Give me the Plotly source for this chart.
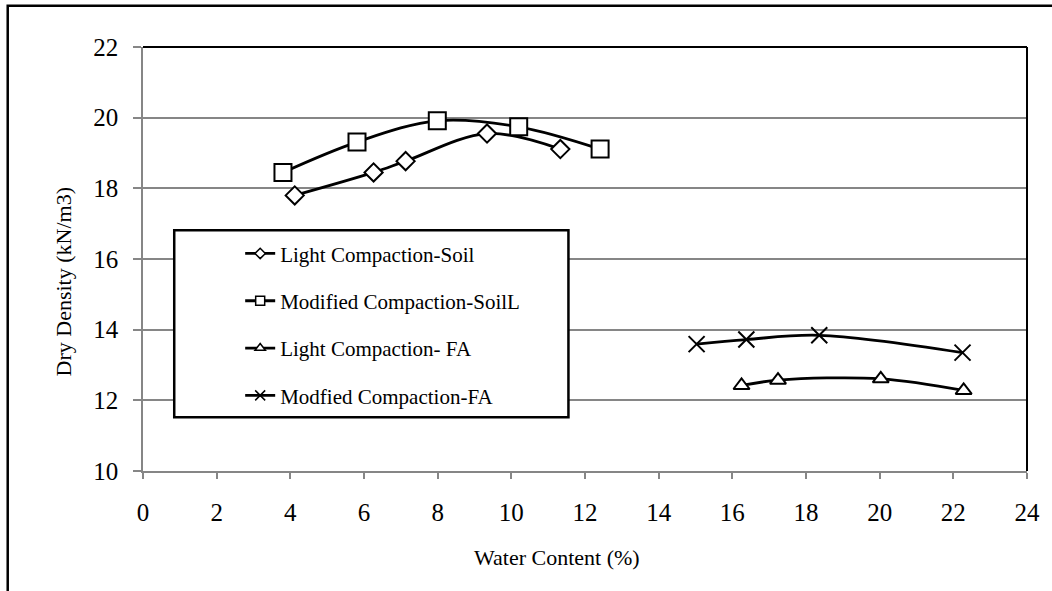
import plotly.graph_objects as go

# Data
light_soil_w = [4.12, 6.26, 7.13, 9.34, 11.33]
light_soil_d = [17.80, 18.45, 18.77, 19.55, 19.11]

mod_soil_w = [3.80, 5.81, 7.99, 10.20, 12.41]
mod_soil_d = [18.45, 19.31, 19.91, 19.74, 19.11]

light_fa_w = [16.25, 17.24, 20.03, 22.28]
light_fa_d = [12.42, 12.57, 12.61, 12.28]

mod_fa_w = [15.03, 16.38, 18.36, 22.25]
mod_fa_d = [13.59, 13.72, 13.84, 13.35]

series_names = ["Light Compaction-Soil", "Modified Compaction-SoilL",
                "Light Compaction- FA", "Modfied Compaction-FA"]
x_ticks = list(range(0, 25, 2))
y_ticks = list(range(10, 23, 2))

FONT = "Liberation Serif, Times New Roman, serif"
GRAY = "#868686"

W, H = 1052, 591
# plot area in pixels of the reference
L, R, T, B = 143.3, 1032.0, 46.7, 470.7


def px_x(p):
    return (p - L) / (R - L)


def px_y(p):
    return (B - p) / (B - T)


fig = go.Figure()

specs = [
    (light_soil_w, light_soil_d, "diamond", 14, 8),
    (mod_soil_w, mod_soil_d, "square", 17, 9),
    (light_fa_w, light_fa_d, "triangle-up", 14, 9),
    (mod_fa_w, mod_fa_d, "x-thin-open", 16, 10),
]
for i, (xs, ys, sym, sz, lsz) in enumerate(specs):
    col = "black" if sym == "x-thin-open" else "white"
    fig.add_trace(go.Scatter(
        x=xs, y=ys, name=series_names[i], legendgroup=f"g{i}", showlegend=False,
        mode="lines+markers",
        line=dict(color="black", width=2.8, shape="spline", smoothing=1.0),
        marker=dict(symbol=sym, size=sz, color=col,
                    line=dict(color="black", width=2)),
    ))
    # legend entry with smaller marker, as in the reference
    fig.add_trace(go.Scatter(
        x=[None], y=[None], name=series_names[i], legendgroup=f"g{i}",
        mode="lines+markers",
        line=dict(color="black", width=2.8),
        marker=dict(symbol=sym, size=lsz, color=col,
                    line=dict(color="black", width=1.5)),
    ))

fig.update_layout(
    width=W, height=H,
    margin=dict(l=L, r=W - R, t=T, b=H - B, pad=0),
    paper_bgcolor="white", plot_bgcolor="white",
    font=dict(family=FONT, size=22, color="black"),
    showlegend=True,
    legend=dict(
        x=px_x(241), y=px_y(233), xanchor="left", yanchor="top",
        bgcolor="rgba(0,0,0,0)", borderwidth=0,
        font=dict(family=FONT, size=21, color="black"),
        tracegroupgap=17,
    ),
    xaxis=dict(
        range=[0, 24], tickvals=x_ticks, ticktext=[str(v) for v in x_ticks],
        showgrid=False, zeroline=False,
        showline=True, linecolor=GRAY, linewidth=1.5,
        ticks="outside", ticklen=6, tickcolor=GRAY, tickwidth=1.5,
        ticklabelstandoff=12,
        tickfont=dict(family=FONT, size=25, color="black"),
    ),
    yaxis=dict(
        range=[10, 22], tickvals=y_ticks, ticktext=[str(v) for v in y_ticks],
        showgrid=True, gridcolor=GRAY, gridwidth=1.5, zeroline=False,
        showline=True, linecolor=GRAY, linewidth=1.5,
        ticks="outside", ticklen=8, tickcolor=GRAY, tickwidth=1.5,
        ticklabelstandoff=10,
        tickfont=dict(family=FONT, size=25, color="black"),
    ),
)

shapes = [
    # outer chart border (cropped at right and bottom)
    dict(type="rect", xref="paper", yref="paper",
         x0=px_x(7.3), x1=px_x(1100), y0=px_y(700), y1=px_y(5.5),
         line=dict(color="black", width=2.5), fillcolor="rgba(0,0,0,0)", layer="above"),
    # plot area top and right borders
    dict(type="line", xref="paper", yref="paper", x0=0, x1=1, y0=1, y1=1,
         line=dict(color="black", width=2), layer="above"),
    dict(type="line", xref="paper", yref="paper", x0=1, x1=1, y0=0, y1=1,
         line=dict(color="black", width=2), layer="above"),
    # legend box
    dict(type="rect", xref="paper", yref="paper",
         x0=px_x(174.7), x1=px_x(571), y0=px_y(417), y1=px_y(230),
         line=dict(color="black", width=2.5), fillcolor="white", layer="above"),
]
fig.update_layout(shapes=shapes)

fig.add_annotation(text="Water Content (%)", xref="paper", yref="paper",
                   x=px_x(560), y=px_y(557), xanchor="center", yanchor="middle",
                   showarrow=False, font=dict(family=FONT, size=22, color="black"))
fig.add_annotation(text="Dry Density (kN/m3)", xref="paper", yref="paper",
                   x=px_x(63), y=px_y(282), xanchor="center", yanchor="middle",
                   textangle=-90, showarrow=False,
                   font=dict(family=FONT, size=22, color="black"))

fig.write_html("out.html",
               config={"displayModeBar": False},
               post_script="document.body.style.margin='0';document.body.style.overflow='hidden';")
